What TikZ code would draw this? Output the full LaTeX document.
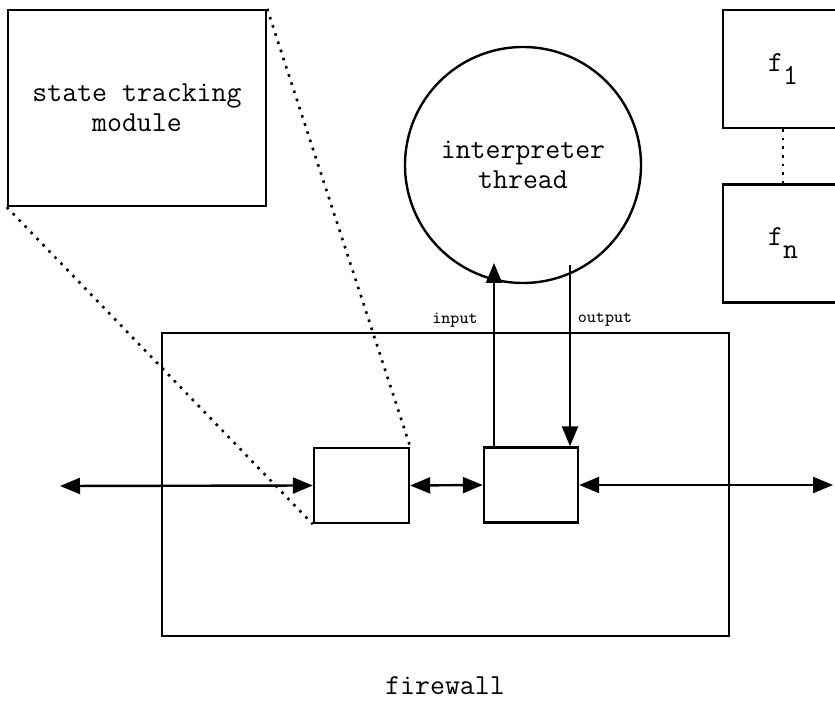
\documentclass[tikz,border=0pt]{standalone}
\usetikzlibrary{arrows.meta, positioning}

\begin{document}
\begin{tikzpicture}[x=0.5pt, y=-0.5pt, line width=1.2pt, >={Triangle[length=10pt, width=8pt]},
  box/.style={rectangle, draw, line width=1.2pt, inner sep=0pt, align=center, font=\fontsize{14.5}{15}\ttfamily},
  fbox/.style={box, minimum width=60pt, minimum height=59pt},
  txt/.style={font=\fontsize{14.5}{15}\ttfamily},
  lbl/.style={font=\fontsize{8.6}{10}\ttfamily},
  dots/.style={line width=1.3pt, dash pattern=on 1.3pt off 3pt}]

\useasboundingbox (0,0) rectangle (835,710);

% state tracking module (zoomed)
\node[box, minimum width=129pt, minimum height=98pt] (stm) at (137,108) {state tracking\\module};

% interpreter
\node[box, circle, minimum size=118pt] (interp) at (523,165) {interpreter\\thread};

% filters
\node[fbox] (f1) at (783,69) {f\raisebox{-6.5pt}{1}};
\node[fbox] (fn) at (783,243.5) {f\raisebox{-6.5pt}{n}};
\draw[dots] (f1.south) -- (fn.north);

% firewall
\node[box, minimum width=283.5pt, minimum height=151.5pt] (fw) at (445.5,484.5) {};
\node[box, minimum width=47.5pt, minimum height=37.5pt] (track) at (361.5,485.5) {};
\node[box, minimum width=47pt, minimum height=37.5pt] (proc) at (531,485) {};
\node[txt] (fwlbl) at (445,686) {firewall};

\coordinate (left) at (60,486);
\coordinate (right) at (833,485);
\coordinate (intip) at (494,263);
\coordinate (outstart) at (570,265);

\draw[<->] (left) -- (track.west);
\draw[<->] (track.east) -- (proc.west);
\draw[<->] (proc.east) -- (right);
\draw[->] (intip |- proc.north) -- (intip);
\draw[->] (outstart) -- (outstart |- proc.north);

\node[lbl] (inlbl) at (455,320) {input};
\node[lbl] (outlbl) at (605,320) {output};

% zoom lines
\draw[dots] (stm.south west) -- (track.south west);
\draw[dots] (stm.north east) -- (track.north east);

\end{tikzpicture}
\end{document}
